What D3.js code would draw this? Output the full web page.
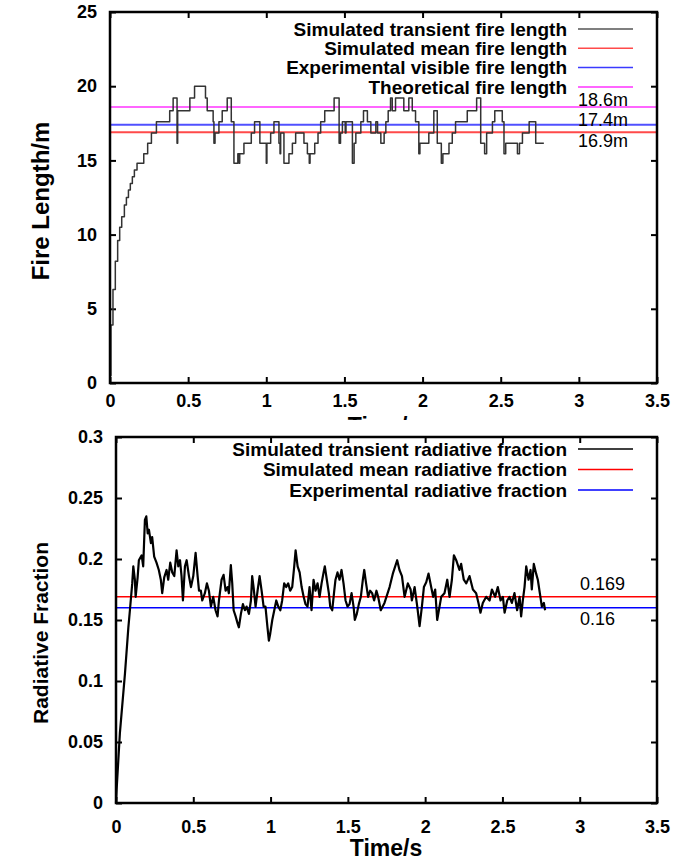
<!DOCTYPE html>
<meta charset="utf-8">
<style>
  body { margin: 0; background: #fff; }
  text { font-family: "Liberation Sans", Arial, sans-serif; fill: #000; }
  .tick text { font-family: "Liberation Sans Narrow", "Liberation Sans", Arial, sans-serif; font-weight: bold; font-size: 18px; }
  .legend text { font-weight: bold; font-size: 19px; }
  .axis-title { font-weight: bold; font-size: 23px; }
  .val text { font-size: 18px; }
</style>
<svg id="chart" width="677" height="863"></svg>
<script src="https://d3js.org/d3.v7.min.js"></script>
<script>

// ---- data ----
var timeTicks = [0, 0.5, 1, 1.5, 2, 2.5, 3, 3.5];
var lenTicks = [0, 5, 10, 15, 20, 25];
var fracTicks = [0, 0.05, 0.1, 0.15, 0.2, 0.25, 0.3];

// transient fire length (step values, m)
var fireTime = [0, 0.006, 0.019, 0.034, 0.049, 0.062, 0.075, 0.092, 0.105, 0.118, 0.13, 0.143, 0.156,
  0.173, 0.216, 0.241, 0.265, 0.297, 0.382, 0.404, 0.429, 0.433, 0.511, 0.541, 0.611, 0.622, 0.66, 0.665,
  0.672, 0.697, 0.718, 0.75, 0.776, 0.793, 0.818, 0.826, 0.83, 0.857, 0.904, 0.925, 0.959, 1.0, 1.004,
  1.028, 1.049, 1.081, 1.088, 1.092, 1.113, 1.145, 1.167, 1.188, 1.241, 1.263, 1.275, 1.28, 1.31, 1.331,
  1.348, 1.374, 1.434, 1.466, 1.475, 1.487, 1.505, 1.51, 1.551, 1.562, 1.573, 1.605, 1.622, 1.647, 1.669,
  1.701, 1.712, 1.733, 1.754, 1.765, 1.78, 1.795, 1.806, 1.827, 1.88, 1.912, 1.934, 1.955, 1.976, 1.983,
  2.04, 2.072, 2.094, 2.12, 2.13, 2.169, 2.19, 2.211, 2.286, 2.346, 2.372, 2.397, 2.41, 2.447, 2.462,
  2.51, 2.521, 2.532, 2.607, 2.62, 2.639, 2.682, 2.724, 2.776];
var fireLen = [0.5, 3.9, 6.3, 8.2, 9.6, 10.5, 11.2, 12.0, 12.5, 13.0, 13.45, 13.9, 14.35,
  14.8, 15.45, 16.15, 16.85, 17.6, 18.35, 19.2, 16.15, 18.35, 19.2, 20.0, 19.2, 18.35, 17.6, 16.15,
  16.85, 17.6, 18.35, 19.2, 17.6, 14.8, 15.45, 14.8, 15.45, 16.15, 16.85, 17.6, 16.15, 14.8, 16.15,
  16.85, 17.6, 16.15, 15.45, 16.85, 14.8, 15.45, 16.15, 16.85, 16.15, 15.45, 14.8, 15.45, 16.15, 16.85,
  17.6, 18.35, 19.2, 16.15, 16.85, 17.6, 16.85, 17.6, 14.8, 16.15, 16.85, 17.6, 18.35, 17.6, 16.85,
  17.6, 16.85, 16.15, 16.85, 17.6, 18.35, 19.2, 18.35, 19.2, 18.35, 19.2, 18.35, 17.6, 15.45, 16.15,
  16.85, 18.35, 16.15, 14.8, 15.45, 16.15, 16.85, 17.6, 18.35, 19.2, 16.15, 15.45, 16.85, 17.6, 18.35,
  17.6, 15.45, 16.15, 15.45, 16.15, 16.85, 17.6, 16.15, 16.15];

// transient radiative fraction
var fracTime = [0, 0.004, 0.025, 0.058, 0.08, 0.09, 0.105, 0.112, 0.122, 0.127, 0.14, 0.148, 0.166, 0.176,
  0.187, 0.196, 0.205, 0.213, 0.226, 0.234, 0.247, 0.262, 0.277, 0.29, 0.299, 0.312, 0.327, 0.338, 0.351,
  0.364, 0.377, 0.392, 0.403, 0.414, 0.424, 0.433, 0.446, 0.457, 0.472, 0.485, 0.5, 0.515, 0.528, 0.537,
  0.549, 0.558, 0.575, 0.588, 0.601, 0.614, 0.629, 0.644, 0.657, 0.666, 0.683, 0.696, 0.709, 0.722, 0.73,
  0.743, 0.752, 0.761, 0.774, 0.787, 0.795, 0.808, 0.821, 0.834, 0.845, 0.86, 0.873, 0.881, 0.89, 0.903,
  0.916, 0.929, 0.942, 0.955, 0.967, 0.98, 0.989, 0.998, 1.011, 1.024, 1.037, 1.05, 1.063, 1.075, 1.088,
  1.101, 1.114, 1.127, 1.14, 1.153, 1.162, 1.175, 1.188, 1.201, 1.214, 1.226, 1.239, 1.252, 1.265, 1.278,
  1.291, 1.304, 1.317, 1.33, 1.343, 1.351, 1.364, 1.377, 1.386, 1.399, 1.412, 1.42, 1.433, 1.446, 1.459,
  1.472, 1.485, 1.498, 1.511, 1.524, 1.537, 1.545, 1.558, 1.571, 1.584, 1.597, 1.606, 1.618, 1.631, 1.644,
  1.657, 1.67, 1.685, 1.696, 1.713, 1.737, 1.77, 1.791, 1.819, 1.834, 1.85, 1.867, 1.888, 1.906, 1.914,
  1.932, 1.949, 1.964, 1.979, 1.992, 2.007, 2.022, 2.039, 2.052, 2.065, 2.078, 2.093, 2.104, 2.125, 2.143,
  2.158, 2.173, 2.186, 2.201, 2.222, 2.233, 2.25, 2.266, 2.287, 2.309, 2.33, 2.345, 2.358, 2.373, 2.395,
  2.417, 2.432, 2.453, 2.47, 2.488, 2.503, 2.514, 2.531, 2.546, 2.561, 2.578, 2.595, 2.611, 2.621, 2.632,
  2.643, 2.654, 2.669, 2.682, 2.69, 2.703, 2.718, 2.729, 2.742, 2.755, 2.768, 2.776];
var fracVal = [0, 0.011, 0.057, 0.106, 0.144, 0.158, 0.18, 0.194, 0.183, 0.169, 0.185, 0.199, 0.203, 0.194,
  0.232, 0.235, 0.221, 0.224, 0.213, 0.218, 0.202, 0.197, 0.191, 0.183, 0.172, 0.185, 0.191, 0.183, 0.197,
  0.189, 0.186, 0.207, 0.194, 0.199, 0.186, 0.166, 0.194, 0.199, 0.186, 0.177, 0.186, 0.205, 0.186, 0.174,
  0.174, 0.166, 0.172, 0.18, 0.174, 0.161, 0.169, 0.158, 0.153, 0.166, 0.183, 0.187, 0.174, 0.177, 0.172,
  0.195, 0.18, 0.158, 0.153, 0.147, 0.144, 0.155, 0.163, 0.158, 0.161, 0.155, 0.166, 0.186, 0.177, 0.161,
  0.174, 0.186, 0.174, 0.161, 0.161, 0.144, 0.133, 0.139, 0.15, 0.158, 0.166, 0.161, 0.158, 0.166, 0.18,
  0.177, 0.18, 0.174, 0.177, 0.194, 0.207, 0.194, 0.189, 0.177, 0.169, 0.163, 0.161, 0.177, 0.158, 0.183,
  0.174, 0.18, 0.169, 0.18, 0.189, 0.194, 0.183, 0.172, 0.161, 0.158, 0.174, 0.183, 0.189, 0.183, 0.191,
  0.18, 0.166, 0.161, 0.163, 0.172, 0.161, 0.15, 0.155, 0.163, 0.169, 0.183, 0.191, 0.18, 0.169, 0.174,
  0.172, 0.166, 0.174, 0.169, 0.158, 0.164, 0.177, 0.188, 0.199, 0.191, 0.186, 0.169, 0.18, 0.175, 0.166,
  0.177, 0.161, 0.145, 0.161, 0.177, 0.181, 0.188, 0.177, 0.169, 0.175, 0.15, 0.161, 0.169, 0.172, 0.183,
  0.169, 0.183, 0.203, 0.199, 0.191, 0.196, 0.183, 0.18, 0.186, 0.175, 0.172, 0.164, 0.156, 0.164, 0.169,
  0.166, 0.175, 0.169, 0.177, 0.166, 0.169, 0.156, 0.166, 0.169, 0.164, 0.172, 0.158, 0.169, 0.153, 0.166,
  0.177, 0.194, 0.183, 0.191, 0.175, 0.196, 0.188, 0.183, 0.172, 0.161, 0.164, 0.158];

var lenLegend = ["Simulated transient fire length", "Simulated mean fire length",
  "Experimental visible fire length", "Theoretical fire length"];
var lenColors = ["#555", "#ff4a4a", "#3a3aff", "#ff33ff"];
var lenRefs = [16.9, 17.4, 18.6];           // mean, experimental, theoretical
var lenRefColors = ["#ff4a4a", "#5050ff", "#ff66ff"];
var lenRefLabels = ["16.9m", "17.4m", "18.6m"];

var fracLegend = ["Simulated transient radiative fraction", "Simulated mean radiative fraction",
  "Experimental radiative fraction"];
var fracColors = ["#000", "#ff0000", "#0000ff"];
var fracRefs = [0.169, 0.16];
var fracRefColors = ["#ff0000", "#0000ff"];
var fracRefLabels = ["0.169", "0.16"];

var svg = d3.select("#chart");

function panel(g, opt) {
  var x = d3.scaleLinear().domain([0, 3.5]).range([opt.left, opt.right]);
  var y = d3.scaleLinear().domain(opt.yDomain).range([opt.bottom, opt.top]);

  // inward ticks, labels outside
  g.append("g").attr("transform", "translate(0," + opt.bottom + ")")
    .call(d3.axisBottom(x).tickValues(timeTicks).tickSize(-6).tickPadding(opt.xPad).tickFormat(d3.format("")));
  g.append("g").attr("transform", "translate(0," + opt.top + ")")
    .call(d3.axisTop(x).tickValues(timeTicks).tickSize(-6).tickFormat(""));
  g.append("g").attr("transform", "translate(" + opt.left + ",0)")
    .call(d3.axisLeft(y).tickValues(opt.yTicks).tickSize(-6).tickPadding(opt.yPad).tickFormat(d3.format("")));
  g.append("g").attr("transform", "translate(" + opt.right + ",0)")
    .call(d3.axisRight(y).tickValues(opt.yTicks).tickSize(-6).tickFormat(""));
  g.selectAll(".domain").remove();
  g.selectAll(".tick line").attr("stroke", "#000").attr("stroke-width", 2);

  // reference lines
  opt.refs.forEach(function(r, i) {
    g.append("line")
      .attr("x1", opt.left).attr("x2", opt.right)
      .attr("y1", y(r)).attr("y2", y(r))
      .attr("stroke", opt.refColors[i]).attr("stroke-width", opt.refWidth);
  });

  // series
  var line = d3.line()
    .x(function(d) { return x(d[0]); })
    .y(function(d) { return y(d[1]); })
    .curve(opt.curve);
  g.append("path")
    .datum(d3.zip(opt.t, opt.v))
    .attr("fill", "none")
    .attr("stroke", opt.seriesColor)
    .attr("stroke-width", opt.seriesWidth)
    .attr("stroke-linejoin", "round")
    .attr("d", line);

  // legend
  var lg = g.append("g").attr("class", "legend");
  opt.legend.forEach(function(name, i) {
    var yy = opt.legendY + i * opt.legendStep;
    lg.append("text").attr("x", 567).attr("y", yy).attr("dy", "0.35em")
      .attr("text-anchor", "end").text(name);
    lg.append("line").attr("x1", 578).attr("x2", 633).attr("y1", yy).attr("y2", yy)
      .attr("stroke", opt.legendColors[i]).attr("stroke-width", 1.5);
  });

  // value labels
  var vl = g.append("g").attr("class", "val");
  opt.refs.forEach(function(r, i) {
    vl.append("text").attr("x", opt.valX).attr("y", y(r) + opt.valOffset[i]).text(opt.refLabels[i]);
  });

  // frame
  g.append("rect")
    .attr("x", opt.left).attr("y", opt.top)
    .attr("width", opt.right - opt.left).attr("height", opt.bottom - opt.top)
    .attr("fill", "none").attr("stroke", "#000").attr("stroke-width", 2.5);

  return { x: x, y: y };
}

// ---- top panel: fire length ----
var topG = svg.append("g");
panel(topG, {
  left: 110, right: 657, top: 12, bottom: 383,
  yDomain: [0, 25], yTicks: lenTicks, xPad: 11, yPad: 13,
  refs: lenRefs, refColors: lenRefColors, refWidth: 2,
  t: fireTime, v: fireLen, curve: d3.curveStepAfter, seriesColor: "#333", seriesWidth: 1.5,
  legend: lenLegend, legendColors: lenColors, legendY: 29, legendStep: 19.3,
  valX: 578, valOffset: [15, 1, -1], refLabels: lenRefLabels
});
topG.append("text").attr("class", "axis-title").style("font-size", "24px")
  .attr("transform", "translate(49,201) rotate(-90)")
  .attr("text-anchor", "middle").text("Fire Length/m");
// x title of the upper panel is mostly hidden behind the lower panel
topG.append("text").attr("class", "axis-title")
  .attr("x", 384).attr("y", 434).attr("text-anchor", "middle").text("Time/s");

// ---- bottom panel: radiative fraction ----
var botG = svg.append("g");
botG.append("rect").attr("x", 0).attr("y", 420).attr("width", 677).attr("height", 443).attr("fill", "#fff");
panel(botG, {
  left: 116, right: 657, top: 437, bottom: 803,
  yDomain: [0, 0.3], yTicks: fracTicks, xPad: 17, yPad: 13,
  refs: fracRefs, refColors: fracRefColors, refWidth: 1.5,
  t: fracTime, v: fracVal, curve: d3.curveLinear, seriesColor: "#000", seriesWidth: 2.2,
  legend: fracLegend, legendColors: fracColors, legendY: 449, legendStep: 20.5,
  valX: 580, valOffset: [-7, 17], refLabels: fracRefLabels
});
botG.append("text").attr("class", "axis-title").style("font-size", "21px")
  .attr("transform", "translate(48,633) rotate(-90)")
  .attr("text-anchor", "middle").text("Radiative Fraction");
botG.append("text").attr("class", "axis-title")
  .attr("x", 386).attr("y", 856).attr("text-anchor", "middle").text("Time/s");

</script>
